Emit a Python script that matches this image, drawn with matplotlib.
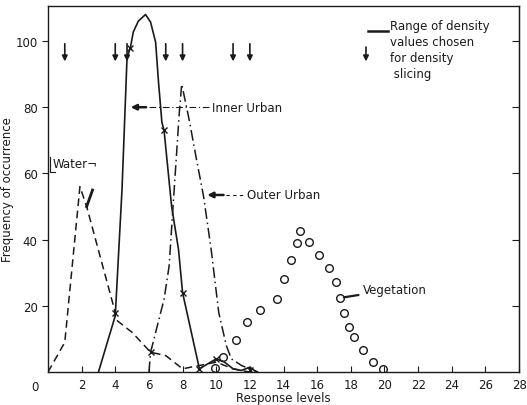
import matplotlib.pyplot as plt

# Response level curves
inner_x = [3.0, 4.0, 4.4, 4.7, 4.9, 5.07, 5.37, 5.8, 6.1, 6.4, 6.57, 6.77, 6.9, 7.35, 7.76, 8.0, 9.0, 10.0, 10.5, 11.0, 11.5, 12.0, 12.4]
inner_y = [0, 17, 55, 95, 98, 102.7, 106, 108, 105.7, 99.6, 87.6, 75.5, 73, 50, 37, 24, 1, 4, 3, 1, 0.5, 1.5, 0]

outer_x = [6.0, 6.1, 6.9, 7.2, 7.5, 7.8, 7.95, 8.4, 8.8, 9.25, 9.7, 10.15, 10.6, 10.9, 11.5, 12.0, 12.5]
outer_y = [0, 6, 22, 32, 55, 78, 87, 76, 65, 53, 37, 18, 8, 4, 2, 1, 0]

water_x = [0, 1.0, 1.9, 2.3, 4.0, 4.0, 5.0, 6.1, 7.0, 8.0, 9.0, 10.0, 11.0, 12.0]
water_y = [0, 9, 56, 50, 18, 16, 12, 6, 5, 1, 2, 3, 1, 0]

veg_x = [9.95, 10.4, 11.2, 11.8, 12.6, 13.6, 14.0, 14.45, 14.8, 15.0, 15.5, 16.1, 16.7, 17.1, 17.35, 17.6, 17.9, 18.2, 18.7, 19.3, 19.9]
veg_y = [1.2, 4.5, 9.7, 15.1, 18.8, 22, 28, 34, 39, 42.6, 39.2, 35.4, 31.3, 27.3, 22.4, 17.8, 13.7, 10.5, 6.7, 3.1, 0.9]

cross_x = [4.9, 6.9, 8.0, 4.0, 6.1, 9.0, 10.0, 12.0]
cross_y = [98, 73, 24, 18, 6, 1, 4, 0.5]

slice_x = [1, 4, 4.7, 7, 8, 11, 12]

xticks = list(range(2, 29, 2))
yticks = [20, 40, 60, 80, 100]

ink = '#1a1a1a'
plt.rcParams['font.family'] = 'DejaVu Sans'

fig = plt.figure(figsize=(5.27, 4.06), dpi=100)
ax = fig.add_axes([0.091, 0.081, 0.894, 0.902])

ax.plot(inner_x, inner_y, '-', color=ink, lw=1.2)
ax.plot(outer_x, outer_y, color=ink, lw=1.1, linestyle=(0, (7, 2.5, 1, 2.5)))
ax.plot(water_x, water_y, color=ink, lw=1.1, linestyle=(0, (5, 3)))
ax.plot([2.3, 2.65], [50, 55], color=ink, lw=2)
ax.plot(veg_x, veg_y, 'o', mfc='none', mec=ink, ms=5.5, mew=1)
ax.plot(cross_x, cross_y, 'x', color=ink, ms=4, mew=1)

# density slicing arrows
for xv in slice_x:
    ax.annotate('', xy=(xv, 93), xytext=(xv, 100),
                arrowprops=dict(arrowstyle='-|>', color=ink, lw=1.2, mutation_scale=8))
ax.annotate('', xy=(18.9, 93), xytext=(18.9, 99),
            arrowprops=dict(arrowstyle='-|>', color=ink, lw=1.2, mutation_scale=8))
ax.plot([19.0, 20.2], [103, 103], color=ink, lw=1.8)
ax.text(20.3, 106.5, 'Range of density\nvalues chosen\nfor density\n slicing', fontsize=8.5,
        va='top', ha='left', color=ink, linespacing=1.3)

# labels
ax.annotate('', xy=(4.75, 80), xytext=(6.0, 80),
            arrowprops=dict(arrowstyle='-|>', color=ink, lw=1.8, mutation_scale=8))
ax.plot([6.0, 9.7], [80, 80], color=ink, lw=0.8, linestyle=(0, (6, 2.5, 1, 2.5)))
ax.text(9.75, 80, 'Inner Urban', fontsize=8.5, va='center', ha='left', color=ink)

ax.annotate('', xy=(9.3, 53.5), xytext=(10.6, 53.5),
            arrowprops=dict(arrowstyle='-|>', color=ink, lw=1.8, mutation_scale=8))
ax.plot([10.6, 11.6], [53.5, 53.5], color=ink, lw=0.8, linestyle=(0, (3, 3)))
ax.text(11.8, 53.5, 'Outer Urban', fontsize=8.5, va='center', ha='left', color=ink)

ax.plot([0.15, 0.15, 0.4], [65, 60.5, 60.5], color=ink, lw=0.8)
ax.text(0.3, 63, 'Water\u00ac', fontsize=8.5, va='center', ha='left', color=ink)

ax.annotate('Vegetation', xy=(17.35, 22.4), xytext=(18.7, 25), fontsize=8.5, va='center',
            ha='left', color=ink,
            arrowprops=dict(arrowstyle='-', color=ink, lw=1.6, shrinkA=1, shrinkB=3))

ax.set_xlim(0, 28)
ax.set_ylim(0, 110.6)
ax.set_xticks(xticks)
ax.set_yticks(yticks)
ax.tick_params(axis='x', direction='in', length=4, labelsize=8.5, colors=ink, pad=4)
ax.tick_params(axis='y', direction='out', length=4, labelsize=8.5, colors=ink)
right = ax.secondary_yaxis('right')
right.set_yticks(yticks)
right.tick_params(direction='in', length=5, labelright=False, colors=ink)
ax.text(-0.55, -4.2, '0', fontsize=8.5, ha='right', va='center', color=ink)
for s in ax.spines.values():
    s.set_color(ink)
    s.set_linewidth(1.0)
right.spines['right'].set_color(ink)
ax.set_xlabel('Response levels', fontsize=8.5, color=ink, labelpad=0)
ax.set_ylabel('Frequency of occurrence', fontsize=8.5, color=ink, labelpad=1)

fig.savefig('out.png', dpi=100)
